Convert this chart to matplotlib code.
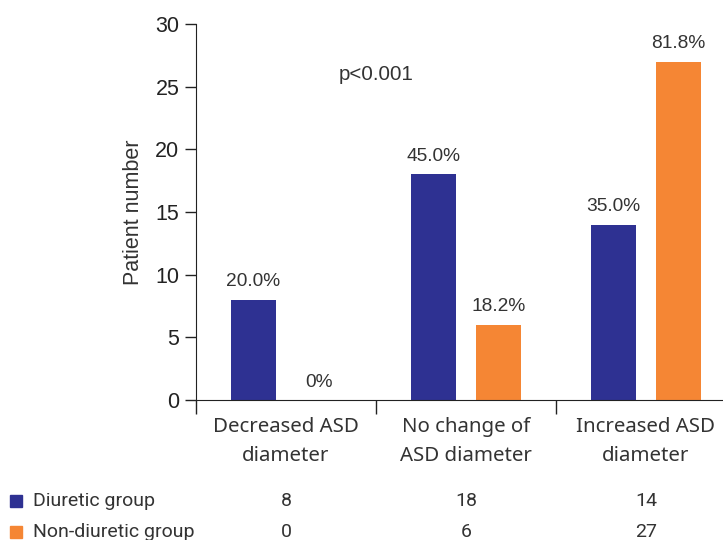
import matplotlib
matplotlib.use('Agg')
import matplotlib.pyplot as plt
import numpy as np

categories = ['Decreased ASD\ndiameter', 'No change of\nASD diameter', 'Increased ASD\ndiameter']
groups = ['Diuretic group', 'Non-diuretic group']
diuretic = [8, 18, 14]
non_diuretic = [0, 6, 27]
diuretic_pct = ['20.0%', '45.0%', '35.0%']
non_diuretic_pct = ['0%', '18.2%', '81.8%']
colors = ['#2E3192', '#F58634']

plt.rcParams['font.family'] = ['Liberation Sans', 'DejaVu Sans']

fig = plt.figure(figsize=(7.23, 5.4), dpi=100)
ax = fig.add_axes([196/723, 1 - 400/540, 1 - 196/723, 376/540])

x = np.arange(len(categories))
w = 0.25
off = 0.181
ax.bar(x - off, diuretic, w, color=colors[0])
ax.bar(x + off, non_diuretic, w, color=colors[1])

for i in range(len(categories)):
    ax.text(x[i] - off, diuretic[i] + 0.75, diuretic_pct[i], ha='center', va='bottom',
            fontsize=13.8, color='#333333')
    ax.text(x[i] + off, non_diuretic[i] + 0.75, non_diuretic_pct[i], ha='center', va='bottom',
            fontsize=13.8, color='#333333')

ax.text(0.5, 26.0, 'p<0.001', ha='center', va='center', fontsize=14.8, color='#333333')

ax.set_xlim(-0.5, (723 - 196) / 180 - 0.5)
ax.set_ylim(0, 30)
ax.set_yticks([0, 5, 10, 15, 20, 25, 30])
ax.tick_params(axis='y', labelsize=15.5, length=8, width=1, colors='#222222', pad=4)
ax.set_ylabel('Patient number', fontsize=15.5, color='#333333', labelpad=8)

ax.set_xticks([-0.5, 0.5, 1.5])
ax.set_xticklabels([])
ax.tick_params(axis='x', length=10, width=1, colors='#222222')
for i, c in enumerate(categories):
    ax.text(x[i], -1.35, c, ha='center', va='top', fontsize=14.7, color='#333333',
            family=['Noto Sans', 'DejaVu Sans'], linespacing=1.62)

for s in ['top', 'right']:
    ax.spines[s].set_visible(False)
ax.spines['left'].set_color('#222222')
ax.spines['bottom'].set_color('#222222')

# table below chart
row_y = [501, 532]
vals = [diuretic, non_diuretic]
for r in range(2):
    fy = 1 - row_y[r] / 540
    fig.patches.append(plt.Rectangle((10/723, fy - 6/540), 12/723, 12/540,
                                     transform=fig.transFigure, color=colors[r]))
    fig.text(33/723, fy, groups[r], ha='left', va='center', fontsize=14,
             color='#333333', family=['Roboto', 'DejaVu Sans'])
    for i in range(len(categories)):
        fx = (196 + 180 * (i + 0.5)) / 723
        fig.text(fx, fy, str(vals[r][i]), ha='center', va='center', fontsize=14,
                 color='#333333', family=['Roboto', 'DejaVu Sans'])

fig.savefig('out.png', dpi=100)
